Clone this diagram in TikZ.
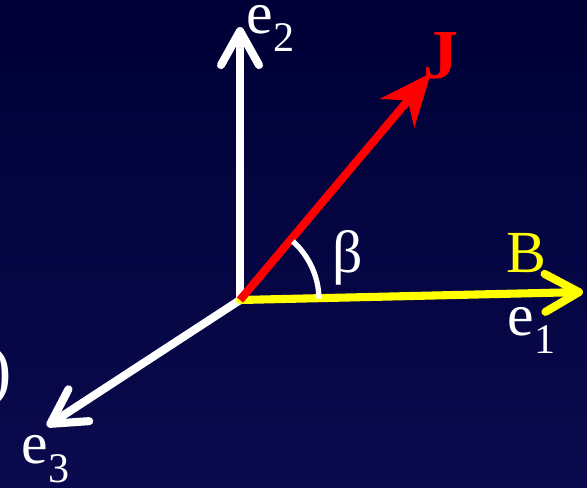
\documentclass[tikz,border=0pt]{standalone}
\usepackage{fontspec}
\setmainfont{Liberation Serif}
\usepackage{tikz}
\usetikzlibrary{arrows.meta, positioning, calc}
\usepackage{xcolor}
\definecolor{bgtop}{HTML}{000036}
\definecolor{bgbot}{HTML}{0A0A4E}
\definecolor{jred}{HTML}{FF0000}
\definecolor{byellow}{HTML}{FFFF00}
\newcommand{\lowdigit}[1]{\raisebox{-5.4pt}{\fontsize{12}{12}\selectfont #1}}

\begin{document}
\begin{tikzpicture}[
    every node/.style={font=\fontsize{17}{19}\selectfont, inner sep=0pt},
    axis/.style={line width=2.3pt, white, line cap=round, -{Straight Barb[length=3.4mm, width=3.8mm, round]}},
    field/.style={line width=2.3pt, byellow, line cap=round, -{Straight Barb[length=3.4mm, width=3.8mm, round]}},
    spin/.style={line width=2.3pt, jred, -{Stealth[length=5.2mm, width=4.4mm, inset=1.6mm]}},
    label/.style={text=white, anchor=base west}
]
    \useasboundingbox (0,0) rectangle (5.87,4.87);
    \shade[top color=bgtop, bottom color=bgbot] (0,0) rectangle (5.87,4.87);

    \coordinate (o) at (2.40,1.87);
    \coordinate (e1tip) at (5.83,1.95);
    \coordinate (e2tip) at (2.40,4.60);
    \coordinate (e3tip) at (0.47,0.61);
    \coordinate (jtip) at (4.31,4.14);

    % axes and vectors
    \draw[axis] (o) -- (e2tip);
    \draw[axis] (o) -- (e3tip);
    \draw[field] (o) -- (e1tip);
    \draw[spin] (o) -- (jtip);

    % angle between J and B
    \draw[white, line width=1.5pt] ($(o)+(1:0.79)$) arc[start angle=1, end angle=48, radius=0.79];

    % labels
    \node[label] (e2) at (2.46,4.54) {e\lowdigit{2}};
    \node[label] (e1) at (5.07,1.52) {e\lowdigit{1}};
    \node[label] (e3) at (0.21,0.24) {e\lowdigit{3}};
    \node[text=jred, font=\fontsize{20}{22}\selectfont\bfseries] (j) at (4.41,4.31) {J};
    \node[text=byellow, anchor=base west] (b) at (5.06,2.15) {B};
    \node[label] (beta) at (3.32,2.15) {β};
    \node[text=white, anchor=east, font=\fontsize{20}{22}\selectfont] (paren) at (0.13,1.10) {)};
\end{tikzpicture}
\end{document}
